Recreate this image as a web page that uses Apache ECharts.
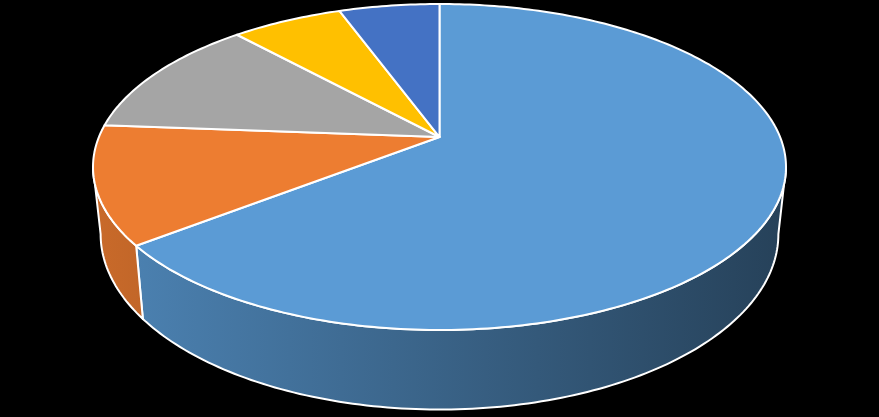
<!DOCTYPE html>
<html>
<head>
<meta charset="utf-8">
<script src="https://cdn.jsdelivr.net/npm/echarts@6/dist/echarts.min.js"></script>
<style>
  html, body { margin: 0; padding: 0; background: #000; }
  #chart { width: 879px; height: 417px; }
</style>
</head>
<body>
<div id="chart"></div>
<script>
  // slice data, clockwise from 12 o'clock
  const sliceNames = ['Part 1', 'Part 2', 'Part 3', 'Part 4', 'Part 5'];
  const sliceValues = [64.5, 11.7, 12.0, 6.2, 5.6];
  const sliceColors = ['#5B9BD5', '#ED7D31', '#A5A5A5', '#FFC000', '#4472C4'];

  const chartDom = document.getElementById('chart');
  const myChart = echarts.init(chartDom);

  const total = sliceValues.reduce((a, b) => a + b, 0);
  const startAngles = [];
  let acc = 0;
  sliceValues.forEach((v) => {
    startAngles.push(acc / total * 360);
    acc += v;
  });

  // pie geometry (pixels)
  const cx = 439.5, cy = 167, rx = 346.5, ry = 163;
  const tilt = -0.184;   // perspective shift of the centre
  const depth = 66;      // thickness of the pie
  const baseShrink = 0.978;
  const side = Math.acos(tilt) * 180 / Math.PI; // silhouette angle

  function project(deg, drop) {
    const t = deg * Math.PI / 180;
    const X = Math.sin(t), Y = -Math.cos(t);
    const k = 1 + tilt * Y;
    const g = Math.sqrt(1 - tilt * tilt);
    const px = X * g / k, py = (Y + tilt) / k;
    if (!drop) return [cx + rx * px, cy + ry * py];
    return [cx + rx * px * baseShrink, cy + ry * py + depth * g / k];
  }

  function arc(a, b, drop) {
    const pts = [];
    const n = Math.max(2, Math.ceil(b - a));
    for (let i = 0; i <= n; i++) pts.push(project(a + (b - a) * i / n, drop));
    return pts;
  }

  function shade(hex, f) {
    const n = parseInt(hex.slice(1), 16);
    const r = Math.round(((n >> 16) & 255) * f);
    const g = Math.round(((n >> 8) & 255) * f);
    const b = Math.round((n & 255) * f);
    return 'rgb(' + r + ',' + g + ',' + b + ')';
  }

  function sliceRange(params, api) {
    const a = startAngles[params.dataIndex];
    return [a, a + api.value(0) / total * 360];
  }

  const option = {
    backgroundColor: '#000',
    animation: false,
    series: [
      {
        type: 'custom',
        name: 'walls',
        coordinateSystem: 'none',
        z: 1,
        data: sliceValues.map((v, i) => ({ value: v, name: sliceNames[i] })),
        renderItem: function (params, api) {
          const [a, b] = sliceRange(params, api);
          const s = Math.max(a, side), e = Math.min(b, 360 - side);
          if (e <= s) return null;
          const pts = arc(s, e, false).concat(arc(s, e, true).reverse());
          const c = sliceColors[params.dataIndex];
          return {
            type: 'polygon',
            shape: { points: pts },
            style: {
              fill: {
                type: 'linear', x: cx - rx, y: 0, x2: cx + rx, y2: 0, global: true,
                colorStops: [
                  { offset: 0, color: shade(c, 0.85) },
                  { offset: 1, color: shade(c, 0.42) }
                ]
              },
              stroke: '#fff',
              lineWidth: 2,
              lineJoin: 'round'
            }
          };
        }
      },
      {
        type: 'custom',
        name: 'tops',
        coordinateSystem: 'none',
        z: 2,
        data: sliceValues.map((v, i) => ({ value: v, name: sliceNames[i] })),
        renderItem: function (params, api) {
          const [a, b] = sliceRange(params, api);
          const centre = [cx, cy + ry * tilt];
          return {
            type: 'polygon',
            shape: { points: [centre].concat(arc(a, b, false)) },
            style: {
              fill: sliceColors[params.dataIndex],
              stroke: '#fff',
              lineWidth: 2,
              lineJoin: 'round'
            }
          };
        }
      }
    ]
  };

  myChart.setOption(option);
</script>
</body>
</html>
